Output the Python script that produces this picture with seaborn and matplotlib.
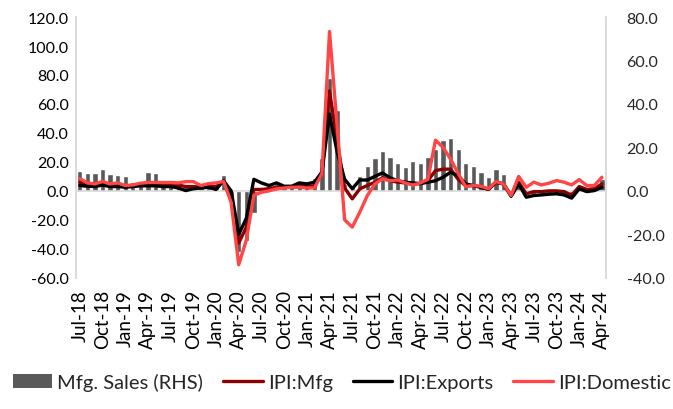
import numpy as np
import pandas as pd
import seaborn as sns
from matplotlib import pyplot as plt
from matplotlib.patches import Patch
from matplotlib.lines import Line2D

sns.set_style("white")
plt.rcParams['font.family'] = ['Lato', 'DejaVu Sans']

# Months Jul-18 .. Apr-24
months = pd.date_range('2018-07-01', periods=70, freq='MS').strftime('%b-%y').tolist()

# Mfg. Sales, % YoY (right axis)
mfg_sales = [9.3, 8.1, 8.1, 10.1, 7.8, 7.4, 6.7, 4.3, 3.7, 8.6,
             8.3, 5.1, 5.1, 3.5, 2.0, 2.5, 3.0, 2.5, 2.0, 7.4,
             -3.0, -28.0, -23.0, -10.0, 2.0, 2.5, 3.0, 2.5, 3.0, 4.0,
             3.5, 6.0, 15.0, 52.0, 37.0, 3.0, 2.0, 6.8, 11.6, 15.0,
             18.5, 15.5, 12.9, 10.9, 13.7, 13.0, 15.5, 19.3, 23.6, 24.2,
             19.3, 12.8, 11.6, 8.6, 6.3, 10.0, 7.8, -2.0, 3.0, -2.0,
             -2.5, -2.0, -2.0, -1.5, -1.5, -3.0, 2.0, 1.0, 1.5, 5.5]

# IPI: Manufacturing, % YoY (left axis)
ipi_mfg = [6.0, 4.0, 4.0, 5.0, 4.0, 4.0, 3.5, 3.5, 4.0, 4.5,
           4.5, 4.5, 4.5, 4.0, 3.0, 3.0, 2.5, 3.0, 3.0, 6.5,
           -4.0, -36.0, -25.0, 1.0, 1.0, 1.5, 2.5, 2.5, 2.5, 3.5,
           3.0, 3.5, 12.0, 69.0, 35.0, 2.0, -5.5, 1.4, 3.7, 6.0,
           9.0, 7.0, 6.0, 5.5, 5.0, 5.0, 7.0, 14.0, 15.0, 15.0,
           8.0, 3.5, 3.7, 2.5, 1.2, 6.0, 4.8, -3.5, 6.0, -2.0,
           -0.5, -0.5, 0.0, 0.0, -0.5, -3.0, 3.0, 1.0, 1.5, 4.8]

# IPI: Exports, % YoY (left axis)
ipi_exports = [3.7, 3.2, 3.0, 4.0, 3.0, 3.0, 2.5, 3.0, 3.5, 3.5,
               3.5, 3.0, 3.0, 2.0, 0.2, 1.5, 2.0, 2.5, 1.0, 7.0,
               0.0, -30.0, -19.0, 8.0, 5.5, 3.7, 5.5, 3.2, 3.2, 5.5,
               4.8, 6.0, 13.0, 53.0, 27.0, 8.0, 1.5, 7.5, 7.5, 10.0,
               12.4, 9.0, 7.0, 6.0, 5.5, 5.0, 6.0, 7.0, 9.4, 12.9,
               10.5, 4.8, 3.7, 2.5, 1.0, 6.0, 4.8, -3.7, 4.8, -4.4,
               -3.2, -2.8, -2.3, -2.0, -2.8, -5.0, 1.4, -0.5, 0.2, 2.5]

# IPI: Domestic, % YoY (left axis)
ipi_domestic = [8.5, 5.5, 4.8, 6.5, 4.8, 5.5, 3.7, 4.1, 5.3, 5.8,
                5.8, 5.8, 5.8, 5.5, 6.4, 6.4, 3.7, 5.0, 5.5, 6.5,
                -8.0, -51.0, -34.0, -3.0, -1.0, 0.0, 1.4, 2.0, 2.5, 2.5,
                2.0, 2.0, 12.0, 110.0, 45.0, -20.0, -25.0, -14.7, -3.2, 4.8,
                8.3, 7.0, 7.5, 5.5, 4.0, 5.5, 8.0, 35.0, 30.0, 22.0,
                12.0, 3.0, 3.7, 3.2, 1.4, 6.4, 4.8, -3.2, 10.0, 2.5,
                6.0, 4.1, 5.3, 7.1, 6.0, 4.1, 7.8, 3.7, 3.7, 9.4]

df = pd.DataFrame({
    'idx': np.arange(len(months)),
    'month': months,
    'sales': mfg_sales,
    'mfg': ipi_mfg,
    'exports': ipi_exports,
    'domestic': ipi_domestic,
})

fig, ax = plt.subplots(figsize=(6.73, 4.10), dpi=100)
fig.subplots_adjust(left=0.113, right=0.9, top=0.956, bottom=0.32)
ax2 = ax.twinx()

# bars on the right axis, lines on the left axis drawn above
sns.barplot(data=df, x='idx', y='sales', color='#595959', saturation=1,
            width=0.7, ax=ax2)
ax.set_zorder(ax2.get_zorder() + 1)
ax.patch.set_visible(False)

c_mfg, c_exp, c_dom = '#8B0000', '#000000', '#FF4545'
sns.lineplot(data=df, x='idx', y='mfg', color=c_mfg, linewidth=2.4, ax=ax)
sns.lineplot(data=df, x='idx', y='exports', color=c_exp, linewidth=2.4, ax=ax)
sns.lineplot(data=df, x='idx', y='domestic', color=c_dom, linewidth=2.4, ax=ax)

ax.axhline(0, color='#d9d9d9', linewidth=1.2, zorder=0)

# axes limits and ticks
ax.set_ylim(-60, 120)
ax.set_yticks(np.arange(-60, 121, 20))
ax.set_yticklabels([f'{v:.1f}' for v in np.arange(-60, 121, 20)])
ax2.set_ylim(-40, 80)
ax2.set_yticks(np.arange(-40, 81, 20))
ax2.set_yticklabels([f'{v:.1f}' for v in np.arange(-40, 81, 20)])

tick_pos = list(range(0, len(months), 3))
ax.set_xticks(tick_pos)
ax.set_xticklabels([months[i] for i in tick_pos], rotation=90)
ax.set_xlim(-0.5, len(months) - 0.5)

ax.set_xlabel('')
ax.set_ylabel('')
ax2.set_xlabel('')
ax2.set_ylabel('')

ax.tick_params(axis='both', length=0, labelsize=11.5, colors='#000000')
ax.tick_params(axis='x', pad=8, labelbottom=True, labelsize=13.5)
ax.tick_params(axis='y', pad=5)
ax2.tick_params(axis='y', length=0, labelsize=11.5, pad=15)

for a in (ax, ax2):
    for side in ('top', 'bottom'):
        a.spines[side].set_visible(False)
    a.spines['left'].set_color('#d9d9d9')
    a.spines['right'].set_color('#d9d9d9')
    a.spines['left'].set_linewidth(1.2)
    a.spines['right'].set_linewidth(1.2)
    a.grid(False)

# legend along the bottom
handles = [
    Patch(facecolor='#595959', edgecolor='none'),
    Line2D([], [], color=c_mfg, linewidth=2.4),
    Line2D([], [], color=c_exp, linewidth=2.4),
    Line2D([], [], color=c_dom, linewidth=2.4),
]
labels = ['Mfg. Sales (RHS)', 'IPI:Mfg', 'IPI:Exports', 'IPI:Domestic']
fig.legend(handles, labels, loc='center', bbox_to_anchor=(0.508, 0.066), ncol=4,
           frameon=False, fontsize=14.5, handlelength=1.95, handleheight=0.75,
           handletextpad=0.25, columnspacing=1.0, borderpad=0.1)

plt.savefig('out.png', dpi=100)
